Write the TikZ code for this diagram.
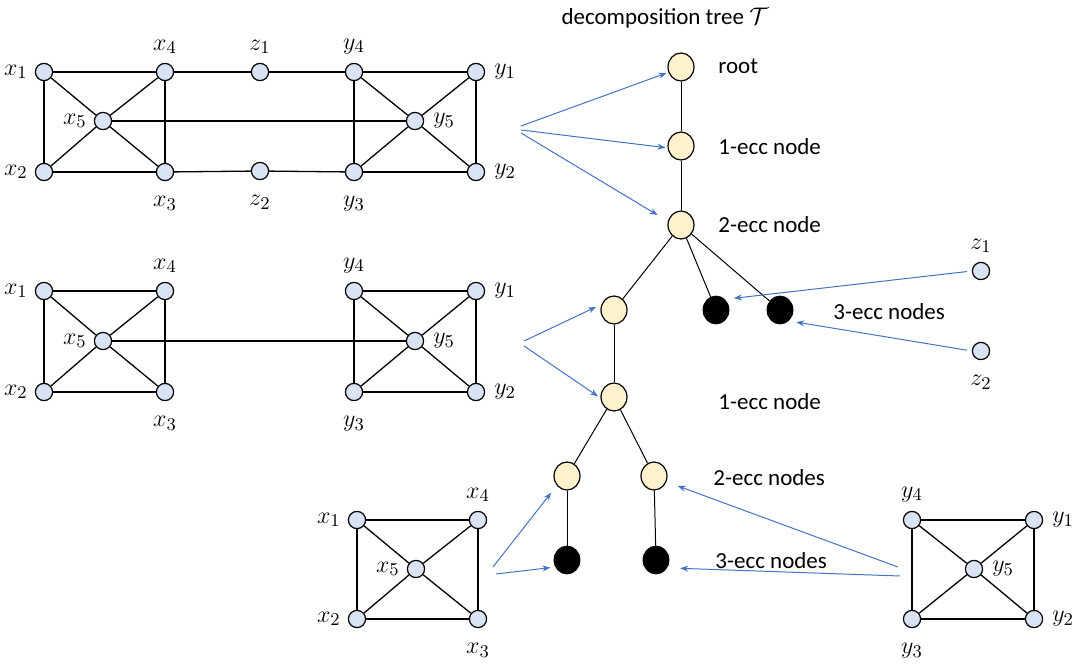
\documentclass[tikz,border=0pt]{standalone}
\usepackage{amsmath}
\usepackage{fontspec}
\setmainfont{Carlito}
\usepackage{tikz}
\usetikzlibrary{
arrows.meta,
positioning,
calc,
shapes.geometric
}
\usepackage{xcolor}
\definecolor{vfill}{RGB}{218,227,243}
\definecolor{tfill}{RGB}{255,242,204}
\definecolor{arblue}{RGB}{68,114,196}

\begin{document}
\begin{tikzpicture}[x=0.5pt,y=-0.5pt,
    vtx/.style={circle, draw, fill=vfill, inner sep=0pt, minimum size=8.6pt, line width=0.6pt},
    tnode/.style={ellipse, draw, fill=tfill, inner sep=0pt, minimum width=13pt, minimum height=14pt, line width=0.6pt},
    leaf/.style={ellipse, draw, fill=black, inner sep=0pt, minimum width=13pt, minimum height=14pt},
    gedge/.style={line width=0.65pt},
    tedge/.style={line width=0.5pt},
    arr/.style={-{Stealth[length=4pt,width=3pt]}, arblue, line width=0.5pt},
    txt/.style={font=\fontsize{11.5}{13}\selectfont, inner sep=0pt},
    every label/.style={font=\fontsize{13}{15}\selectfont},
    lft/.style={label={left:#1}},
    rgt/.style={label={[label distance=1pt]right:#1}},
    up/.style={label={[label distance=1pt]above:#1}},
    dn/.style={label={[label distance=4pt]below:#1}}]
    \useasboundingbox (0,0) rectangle (1081,668);
    % first graph
    \node[vtx,lft=$x_1$] (ax1) at (44,72) {};
    \node[vtx,up=$x_4$] (ax4) at (165,72) {};
    \node[vtx,up=$z_1$] (az1) at (260,72) {};
    \node[vtx,up=$y_4$] (ay4) at (354,72) {};
    \node[vtx,rgt=$y_1$] (ay1) at (476,72) {};
    \node[vtx,lft=$x_5$] (ax5) at (103,121) {};
    \node[vtx,rgt=$y_5$] (ay5) at (415,121) {};
    \node[vtx,lft=$x_2$] (ax2) at (44,172) {};
    \node[vtx,dn=$x_3$] (ax3) at (165,172) {};
    \node[vtx,dn=$z_2$] (az2) at (260,171) {};
    \node[vtx,dn=$y_3$] (ay3) at (354,172) {};
    \node[vtx,rgt=$y_2$] (ay2) at (476,172) {};
    \foreach \a/\b in {ax1/ax4,ax4/az1,az1/ay4,ay4/ay1,ax1/ax2,ax4/ax3,ax2/ax3,ax3/az2,az2/ay3,ay3/ay2,
        ay4/ay3,ay1/ay2,ax1/ax5,ax2/ax5,ax4/ax5,ax3/ax5,ay4/ay5,ay1/ay5,ay3/ay5,ay2/ay5,ax5/ay5}
        \draw[gedge] (\a) -- (\b);
    % second graph
    \node[vtx,lft=$x_1$] (bx1) at (44,291) {};
    \node[vtx,up=$x_4$] (bx4) at (165,291) {};
    \node[vtx,lft=$x_5$] (bx5) at (103,341) {};
    \node[vtx,lft=$x_2$] (bx2) at (44,392) {};
    \node[vtx,dn=$x_3$] (bx3) at (165,392) {};
    \node[vtx,up=$y_4$] (by4) at (354,291) {};
    \node[vtx,rgt=$y_1$] (by1) at (476,291) {};
    \node[vtx,rgt=$y_5$] (by5) at (415,341) {};
    \node[vtx,dn=$y_3$] (by3) at (354,392) {};
    \node[vtx,rgt=$y_2$] (by2) at (476,392) {};
    \foreach \a/\b in {bx1/bx4,bx1/bx2,bx4/bx3,bx2/bx3,bx1/bx5,bx2/bx5,bx4/bx5,bx3/bx5,
        by4/by1,by4/by3,by1/by2,by3/by2,by4/by5,by1/by5,by3/by5,by2/by5,bx5/by5}
        \draw[gedge] (\a) -- (\b);
    % third graph
    \node[vtx,lft=$x_1$] (cx1) at (357,520) {};
    \node[vtx,up=$x_4$] (cx4) at (478,520) {};
    \node[vtx,lft=$x_5$] (cx5) at (416,569) {};
    \node[vtx,lft=$x_2$] (cx2) at (357,619) {};
    \node[vtx,dn=$x_3$] (cx3) at (478,619) {};
    \foreach \a/\b in {cx1/cx4,cx1/cx2,cx4/cx3,cx2/cx3,cx1/cx5,cx2/cx5,cx4/cx5,cx3/cx5}
        \draw[gedge] (\a) -- (\b);
    % fourth graph
    \node[vtx,up=$y_4$] (dy4) at (912,520) {};
    \node[vtx,rgt=$y_1$] (dy1) at (1034,520) {};
    \node[vtx,rgt=$y_5$] (dy5) at (974,569) {};
    \node[vtx,dn=$y_3$] (dy3) at (912,619) {};
    \node[vtx,rgt=$y_2$] (dy2) at (1034,619) {};
    \foreach \a/\b in {dy4/dy1,dy4/dy3,dy1/dy2,dy3/dy2,dy4/dy5,dy1/dy5,dy3/dy5,dy2/dy5}
        \draw[gedge] (\a) -- (\b);
    % single vertices z1, z2
    \node[vtx,up=$z_1$] (rz1) at (981,271) {};
    \node[vtx,dn=$z_2$] (rz2) at (981,351) {};
    % decomposition tree
    \node[txt] (title) at (665,18) {decomposition tree $\mathcal{T}$};
    \node[tnode] (root) at (681,67) {};
    \node[tnode] (one) at (681,146) {};
    \node[tnode] (two) at (681,225) {};
    \node[tnode] (ta) at (614,310) {};
    \node[leaf] (tb) at (716,310) {};
    \node[leaf] (tc) at (780,310) {};
    \node[tnode] (td) at (614,397) {};
    \node[tnode] (te) at (567,476) {};
    \node[tnode] (tf) at (654,476) {};
    \node[leaf] (tg) at (567,560) {};
    \node[leaf] (th) at (656,560) {};
    \foreach \a/\b in {root/one,one/two,two/ta,two/tb,two/tc,ta/td,td/te,td/tf,te/tg,tf/th}
        \draw[tedge] (\a) -- (\b);
    \node[txt,anchor=west] (lroot) at (718,66) {root};
    \node[txt,anchor=west] (lone) at (718,147) {1-ecc node};
    \node[txt,anchor=west] (ltwo) at (718,225) {2-ecc node};
    \node[txt,anchor=west] (lthree) at (833,312) {3-ecc nodes};
    \node[txt,anchor=west] (lfour) at (718,402) {1-ecc node};
    \node[txt,anchor=west] (lfive) at (713,478) {2-ecc nodes};
    \node[txt,anchor=west] (lsix) at (715,561) {3-ecc nodes};
    % arrows
    \coordinate (s1) at (521,126);
    \coordinate (s2) at (521,130);
    \coordinate (s3) at (521,133);
    \coordinate (s4) at (524,341);
    \coordinate (s5) at (524,346);
    \coordinate (s6) at (493,567);
    \coordinate (s7) at (496,574);
    \coordinate (s8) at (898,567);
    \coordinate (s9) at (900,576);
    \draw[arr,shorten >=1pt] (s1) -- (root.203);
    \draw[arr,shorten >=1pt] (s2) -- (one.188);
    \draw[arr,shorten >=6pt] (s3) -- (two.164);
    \draw[arr,shorten >=3pt] (s4) -- (ta.156);
    \draw[arr,shorten >=1.5pt] (s5) -- (td.184);
    \draw[arr,shorten <=2.5pt,shorten >=4.5pt] (rz1.west) -- (tb.50);
    \draw[arr,shorten <=2.5pt,shorten >=3.8pt] (rz2.west) -- (tc.309);
    \draw[arr,shorten >=4.5pt] (s6) -- (te.223);
    \draw[arr,shorten >=2.5pt] (s7) -- (tg.211);
    \draw[arr,shorten >=6pt] (s8) -- (tf.335);
    \draw[arr,shorten >=6.5pt] (s9) -- (th.325);
\end{tikzpicture}
\end{document}
